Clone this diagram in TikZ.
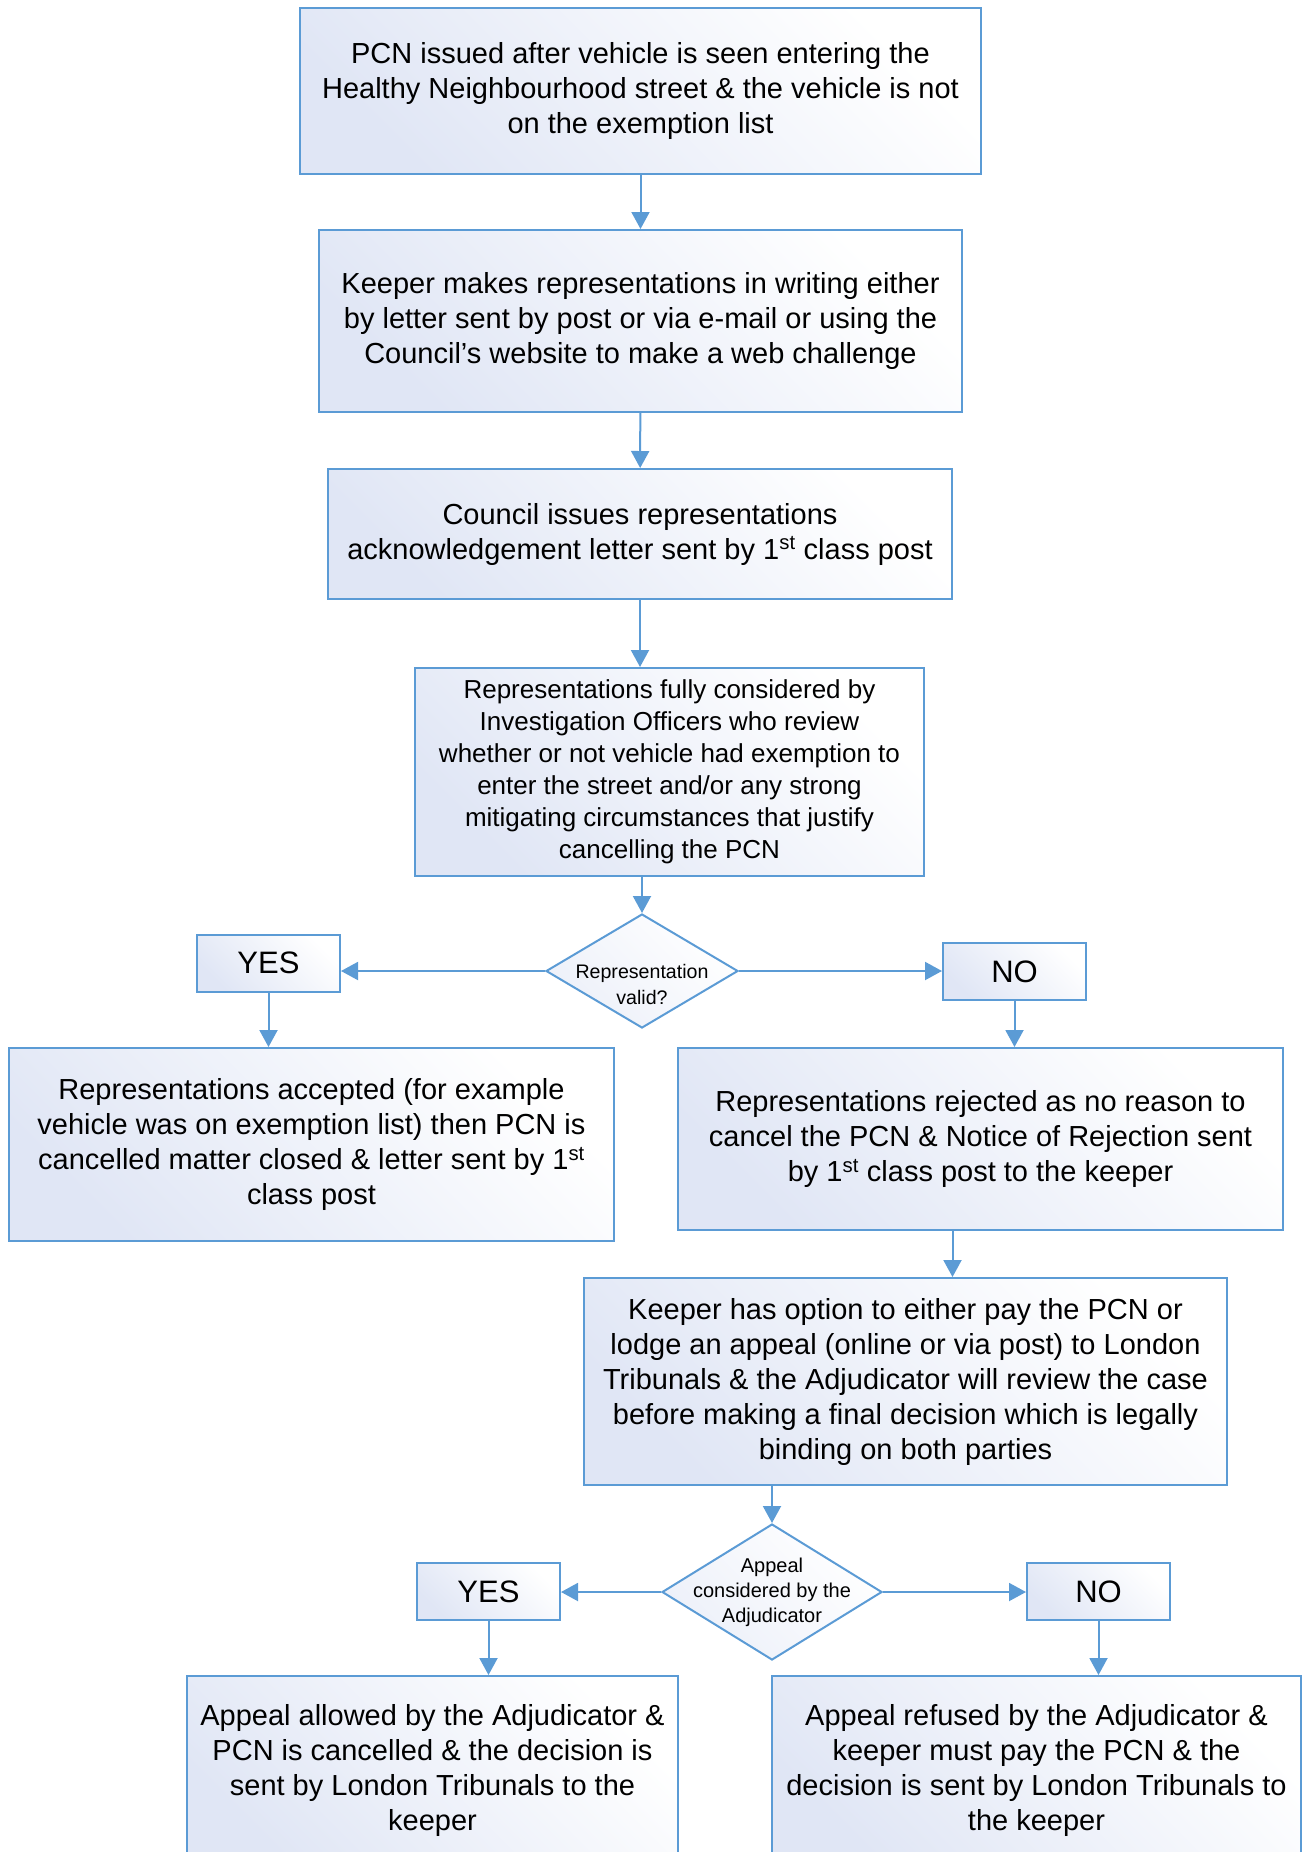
\documentclass[tikz,border=0pt]{standalone}
\usepackage{fontspec}
\setmainfont{Liberation Sans}
\usetikzlibrary{shapes.geometric,arrows.meta}
\definecolor{lineblue}{RGB}{91,155,213}
\definecolor{boxtint}{RGB}{224,230,245}

\begin{document}
\begin{tikzpicture}[x=1pt,y=-1pt,
procbox/.style={rectangle, draw=lineblue, line width=2pt, top color=boxtint, bottom color=white, shading angle=135, align=center, inner sep=0pt, font=\fontsize{29}{35}\selectfont},
decbox/.style={diamond, draw=lineblue, line width=2pt, top color=boxtint!60, bottom color=white, shading angle=135, inner sep=0pt},
answer/.style={procbox, minimum width=143pt, minimum height=57pt, font=\fontsize{31}{35}\selectfont},
flow/.style={draw=lineblue, line width=2pt, -{Triangle[width=18pt,length=17pt]}}]
\clip (0,0) rectangle (1308,1852);
\node[procbox, minimum width=681pt, minimum height=166pt] (pcn) at (640.5,91) {PCN issued after vehicle is seen entering the\\Healthy Neighbourhood street \& the vehicle is not\\on the exemption list};
\node[procbox, minimum width=643pt, minimum height=182pt] (keeper) at (640.5,321) {Keeper makes representations in writing either\\by letter sent by post or via e-mail or using the\\Council’s website to make a web challenge};
\node[procbox, minimum width=624pt, minimum height=130pt] (ack) at (640,534) {Council issues representations\\acknowledgement letter sent by 1\textsuperscript{st} class post};
\node[procbox, minimum width=509pt, minimum height=208pt, font=\fontsize{26}{32}\selectfont] (review) at (669.5,772) {Representations fully considered by\\Investigation Officers who review\\whether or not vehicle had exemption to\\enter the street and/or any strong\\mitigating circumstances that justify\\cancelling the PCN};
\node[decbox, minimum width=192pt, minimum height=114pt] (valid) at (642,971) {};
\node[font=\fontsize{19.6}{26}\selectfont, align=center] (validtxt) at (642,984) {Representation\\valid?};
\node[answer] (yesa) at (268.5,963) {YES};
\node[answer] (noa) at (1014.5,971.5) {NO};
\node[procbox, minimum width=605pt, minimum height=193pt] (accepted) at (311.5,1144.5) {Representations accepted (for example\\vehicle was on exemption list) then PCN is\\cancelled matter closed \& letter sent by 1\textsuperscript{st}\\class post};
\node[procbox, minimum width=605pt, minimum height=182pt] (rejected) at (980.5,1139) {Representations rejected as no reason to\\cancel the PCN \& Notice of Rejection sent\\by 1\textsuperscript{st} class post to the keeper};
\node[procbox, minimum width=643pt, minimum height=207pt] (option) at (905.5,1381.5) {Keeper has option to either pay the PCN or\\lodge an appeal (online or via post) to London\\Tribunals \& the Adjudicator will review the case\\before making a final decision which is legally\\binding on both parties};
\node[decbox, minimum width=220pt, minimum height=136pt] (appeal) at (772,1592) {};
\node[font=\fontsize{20}{25}\selectfont, align=center] (appealtxt) at (appeal) {Appeal\\considered by the\\Adjudicator};
\node[answer] (yesb) at (488.5,1591.5) {YES};
\node[answer] (nob) at (1098.5,1591.5) {NO};
\node[procbox, minimum width=491pt, minimum height=188pt] (allowed) at (432.5,1770) {Appeal allowed by the Adjudicator \&\\PCN is cancelled \& the decision is\\sent by London Tribunals to the\\keeper};
\node[procbox, minimum width=529pt, minimum height=188pt] (refused) at (1036.5,1770) {Appeal refused by the Adjudicator \&\\keeper must pay the PCN \& the\\decision is sent by London Tribunals to\\the keeper};
\draw[flow] (pcn) -- (keeper);
\draw[flow] (keeper) -- (ack);
\draw[flow] (ack) -- (ack |- review.north);
\draw[flow] (valid |- review.south) -- (valid);
\draw[flow] (valid) -- (valid -| yesa.east);
\draw[flow] (valid) -- (valid -| noa.west);
\draw[flow] (yesa) -- (yesa |- accepted.north);
\draw[flow] (noa) -- (noa |- rejected.north);
\draw[flow] ([xshift=-28pt]rejected.south) -- ([xshift=-28pt]rejected.south |- option.north);
\draw[flow] (appeal |- option.south) -- (appeal);
\draw[flow] (appeal) -- (appeal -| yesb.east);
\draw[flow] (appeal) -- (appeal -| nob.west);
\draw[flow] (yesb) -- (yesb |- allowed.north);
\draw[flow] (nob) -- (nob |- refused.north);
\end{tikzpicture}
\end{document}
